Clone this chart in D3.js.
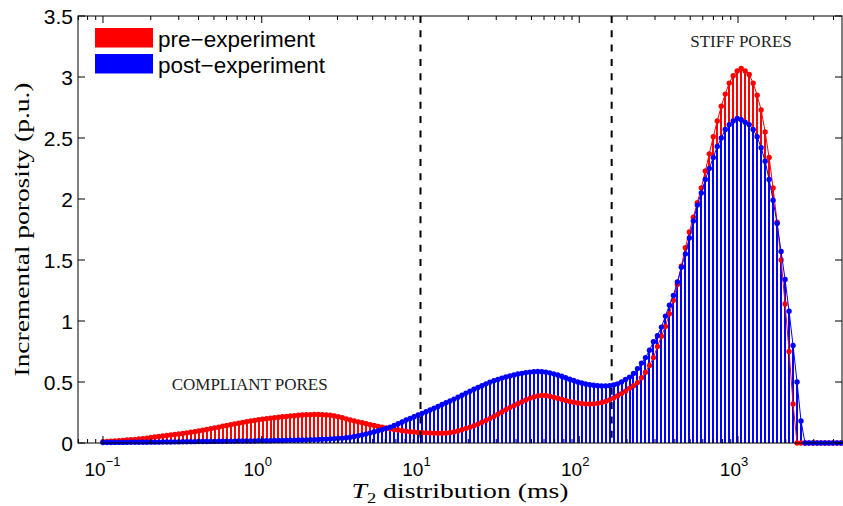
<!DOCTYPE html>
<html>
<head>
<meta charset="utf-8">
<script src="https://cdn.jsdelivr.net/npm/d3@7"></script>
<style>
body { margin: 0; background: #fff; }
</style>
</head>
<body>
<div id="chart"></div>
<script>

// incremental porosity per T2 bin (p.u.)
var preExp = [
  0.010,0.012,0.014,0.016,0.019,0.021,0.024,0.027,0.030,0.033,
  0.036,0.040,0.045,0.049,0.053,0.057,0.061,0.065,0.070,0.074,
  0.078,0.083,0.088,0.093,0.099,0.105,0.111,0.117,0.124,0.130,
  0.137,0.143,0.150,0.156,0.162,0.168,0.174,0.180,0.185,0.190,
  0.195,0.199,0.203,0.207,0.211,0.215,0.218,0.221,0.224,0.227,
  0.229,0.231,0.232,0.233,0.233,0.232,0.230,0.227,0.222,0.215,
  0.207,0.198,0.189,0.181,0.173,0.166,0.158,0.150,0.143,0.135,
  0.129,0.123,0.117,0.111,0.106,0.101,0.097,0.093,0.090,0.087,
  0.085,0.083,0.082,0.081,0.080,0.080,0.082,0.085,0.090,0.098,
  0.108,0.120,0.130,0.142,0.155,0.170,0.185,0.200,0.218,0.236,
  0.254,0.272,0.290,0.306,0.322,0.337,0.352,0.366,0.378,0.386,
  0.390,0.389,0.384,0.376,0.367,0.358,0.349,0.341,0.334,0.328,
  0.324,0.321,0.320,0.321,0.325,0.331,0.340,0.352,0.368,0.386,
  0.405,0.425,0.448,0.470,0.495,0.535,0.580,0.635,0.700,0.790,
  0.875,0.955,1.060,1.170,1.300,1.450,1.600,1.730,1.850,1.970,
  2.090,2.230,2.370,2.510,2.640,2.760,2.860,2.950,3.010,3.050,
  3.070,3.050,3.020,2.950,2.850,2.730,2.550,2.340,2.090,1.810,
  1.500,1.140,0.750,0.320,0,0,0,0,0,0,
  0,0,0,0,0,0
];
var postExp = [
  0.004,0.004,0.004,0.005,0.005,0.005,0.005,0.006,0.006,0.006,
  0.006,0.006,0.007,0.007,0.007,0.008,0.008,0.008,0.009,0.009,
  0.010,0.010,0.011,0.011,0.012,0.012,0.012,0.013,0.013,0.014,
  0.014,0.014,0.015,0.015,0.016,0.016,0.016,0.017,0.017,0.018,
  0.018,0.019,0.019,0.020,0.020,0.021,0.022,0.022,0.023,0.024,
  0.025,0.026,0.027,0.028,0.029,0.031,0.032,0.034,0.036,0.038,
  0.040,0.044,0.048,0.054,0.060,0.067,0.075,0.083,0.092,0.101,
  0.110,0.120,0.130,0.144,0.158,0.173,0.188,0.201,0.215,0.229,
  0.243,0.256,0.270,0.285,0.300,0.315,0.330,0.345,0.360,0.376,
  0.392,0.409,0.425,0.440,0.455,0.470,0.485,0.498,0.510,0.521,
  0.532,0.541,0.550,0.558,0.565,0.571,0.577,0.581,0.585,0.586,
  0.585,0.581,0.575,0.567,0.558,0.547,0.535,0.523,0.512,0.501,
  0.492,0.484,0.478,0.473,0.470,0.468,0.468,0.470,0.475,0.485,
  0.500,0.520,0.540,0.570,0.610,0.655,0.700,0.760,0.830,0.880,
  0.950,1.040,1.130,1.210,1.320,1.440,1.550,1.680,1.820,1.950,
  2.050,2.160,2.250,2.340,2.430,2.500,2.570,2.610,2.640,2.660,
  2.650,2.630,2.610,2.570,2.510,2.420,2.310,2.160,1.990,1.800,
  1.570,1.340,1.080,0.800,0.500,0.180,0,0,0,0,
  0,0,0,0,0,0
];

// T2 bins: 200 log-spaced relaxation times, 0.1 .. 10^4 ms
var binCount = 200, binMin = 0.1, binMax = 10000;

var cutoffs = [10, 160];            // dashed pore-type boundaries (ms)
var yTicks = [0, 0.5, 1, 1.5, 2, 2.5, 3, 3.5];
var yTickLabels = ["0", "0.5", "1", "1.5", "2", "2.5", "3", "3.5"];
var xMajor = [0.1, 1, 10, 100, 1000];
var xExponents = ["\u22121", "0", "1", "2", "3"];
var seriesNames = ["pre\u2212experiment", "post\u2212experiment"];
var seriesColors = ["#ff0000", "#0000ff"];
var notes = [
  {text: "COMPLIANT PORES", t2: 0.84, v: 0.434},
  {text: "STIFF PORES", t2: 1045, v: 3.246}
];

var width = 843, height = 506;
var plot = {left: 78, right: 842, top: 16, bottom: 443};

var svg = d3.select("#chart").append("svg")
    .attr("width", width)
    .attr("height", height)
    .style("display", "block");

var x = d3.scaleLog()
    .domain([0.06961, 4519])
    .range([plot.left, plot.right]);
var y = d3.scaleLinear()
    .domain([0, 3.5])
    .range([plot.bottom, plot.top]);

var bins = d3.range(binCount)
    .map(function(i) { return binMin * Math.pow(binMax / binMin, i / (binCount - 1)); })
    .filter(function(t) { return t <= x.domain()[1]; });

var rows = bins.map(function(t, i) {
  return {t: t, pre: preExp[i], post: postExp[i]};
});

// stems: blue from the baseline, red only where it shows above the blue one
// (same picture as drawing red first and covering it, without colour bleeding)
function stemX(d) { return Math.round(x(d.t)); }
svg.append("g").selectAll("line")
    .data(rows)
    .enter().append("line")
    .attr("x1", stemX)
    .attr("x2", stemX)
    .attr("y1", y(0))
    .attr("y2", function(d) { return y(d.post); })
    .style("stroke", seriesColors[1])
    .style("stroke-width", "2px")
    .style("shape-rendering", "crispEdges");
svg.append("g").selectAll("line")
    .data(rows.filter(function(d) { return d.pre > d.post; }))
    .enter().append("line")
    .attr("x1", stemX)
    .attr("x2", stemX)
    .attr("y1", function(d) { return y(d.post); })
    .attr("y2", function(d) { return y(d.pre); })
    .style("stroke", seriesColors[0])
    .style("stroke-width", "2px")
    .style("shape-rendering", "crispEdges");

function curve(key, color) {
  var line = d3.line()
      .x(function(d) { return x(d.t); })
      .y(function(d) { return y(d[key]); });
  svg.append("path")
      .datum(rows)
      .attr("d", line)
      .style("fill", "none")
      .style("stroke", color)
      .style("stroke-width", "1px");
  svg.append("g").selectAll("circle")
      .data(rows)
      .enter().append("circle")
      .attr("cx", function(d) { return x(d.t); })
      .attr("cy", function(d) { return y(d[key]); })
      .attr("r", 2.7)
      .style("fill", color);
}
curve("pre", seriesColors[0]);
curve("post", seriesColors[1]);

// dashed cut-offs
svg.selectAll(".cut")
    .data(cutoffs)
    .enter().append("line")
    .attr("class", "cut")
    .attr("x1", function(d) { return x(d); })
    .attr("x2", function(d) { return x(d); })
    .attr("y1", y(3.5))
    .attr("y2", y(0))
    .style("stroke", "#000")
    .style("stroke-width", "2px")
    .style("stroke-dasharray", "7,7.3");

// axes box and ticks (inward, both sides)
svg.append("rect")
    .attr("x", plot.left).attr("y", plot.top)
    .attr("width", plot.right - plot.left)
    .attr("height", plot.bottom - plot.top)
    .style("fill", "none")
    .style("stroke", "#000")
    .style("stroke-width", "1px");

var xMinor = [];
d3.range(-2, 4).forEach(function(e) {
  d3.range(2, 10).forEach(function(m) {
    var t = m * Math.pow(10, e);
    if (t >= x.domain()[0] && t <= x.domain()[1]) xMinor.push(t);
  });
});
var tickG = svg.append("g").style("stroke", "#000").style("stroke-width", "1px");
function xTick(t, len) {
  tickG.append("line").attr("x1", x(t)).attr("x2", x(t))
      .attr("y1", plot.bottom).attr("y2", plot.bottom - len);
  tickG.append("line").attr("x1", x(t)).attr("x2", x(t))
      .attr("y1", plot.top).attr("y2", plot.top + len);
}
xMajor.forEach(function(t) { xTick(t, 7); });
xMinor.forEach(function(t) { xTick(t, 4); });
yTicks.forEach(function(v) {
  tickG.append("line").attr("x1", plot.left).attr("x2", plot.left + 7)
      .attr("y1", y(v)).attr("y2", y(v));
  tickG.append("line").attr("x1", plot.right).attr("x2", plot.right - 7)
      .attr("y1", y(v)).attr("y2", y(v));
});

var sans = "'Liberation Sans', Arial, Helvetica, sans-serif";
var serif = "'Liberation Serif', 'Times New Roman', serif";

svg.selectAll(".ylab")
    .data(yTicks)
    .enter().append("text")
    .attr("class", "ylab")
    .attr("x", plot.left - 5)
    .attr("y", function(d) { return y(d); })
    .attr("dy", "0.36em")
    .attr("text-anchor", "end")
    .style("font-family", sans)
    .style("font-size", "21px")
    .text(function(d, i) { return yTickLabels[i]; });

xMajor.forEach(function(t, i) {
  var lab = svg.append("text")
      .attr("y", 476)
      .style("font-family", sans)
      .style("font-size", "19px");
  lab.append("tspan").text("10");
  lab.append("tspan")
      .attr("dy", -10)
      .style("font-size", "13px")
      .text(xExponents[i]);
  var w = lab.node().getComputedTextLength();
  var shift = xExponents[i].length > 1 ? -0.5 : -4;
  lab.attr("x", x(t) + shift - w / 2);
});

// axis titles, widened to the width of the original serif face
var xt = svg.append("text")
    .attr("text-anchor", "middle")
    .style("font-family", serif)
    .style("font-size", "21px");
xt.append("tspan").style("font-style", "italic").text("T");
xt.append("tspan").attr("dy", 5).style("font-size", "14px").text("2");
xt.append("tspan").attr("dy", -5).text(" distribution (ms)");
var xtw = xt.node().getBBox().width;
xt.attr("transform", "translate(" + ((plot.left + plot.right) / 2) + ",498)scale(" + (217 / xtw) + ",1)");

svg.append("text")
    .attr("transform", "translate(29," + ((plot.top + plot.bottom) / 2) + ")rotate(-90)")
    .attr("text-anchor", "middle")
    .attr("textLength", 294)
    .attr("lengthAdjust", "spacingAndGlyphs")
    .style("font-family", serif)
    .style("font-size", "22px")
    .text("Incremental porosity (p.u.)");

svg.selectAll(".note")
    .data(notes)
    .enter().append("text")
    .attr("class", "note")
    .attr("x", function(d) { return x(d.t2); })
    .attr("y", function(d) { return y(d.v); })
    .attr("text-anchor", "middle")
    .style("font-family", serif)
    .style("font-size", "17px")
    .style("fill", "#222")
    .text(function(d) { return d.text; });

// legend (no box)
var leg = svg.append("g").selectAll("g")
    .data(seriesNames)
    .enter().append("g")
    .attr("transform", function(d, i) { return "translate(95," + (28 + i * 26) + ")"; });
leg.append("rect")
    .attr("width", 58).attr("height", 19.5)
    .style("fill", function(d, i) { return seriesColors[i]; });
leg.append("text")
    .attr("x", 63).attr("y", 18.5)
    .style("font-family", sans)
    .style("font-size", "22.5px")
    .text(function(d) { return d; });

</script>
</body>
</html>
